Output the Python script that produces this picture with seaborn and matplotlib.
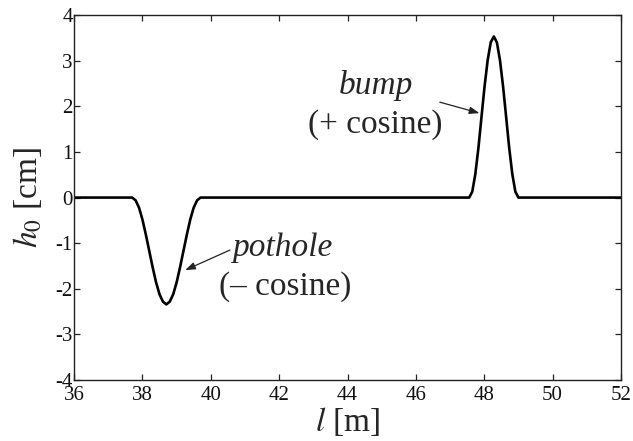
import matplotlib
matplotlib.use("Agg")
import matplotlib.pyplot as plt
import seaborn as sns
import pandas as pd

# Road profile: flat road with a pothole (- cosine) and a bump (+ cosine)
flat_start_l = [36.0]
flat_start_h = [0.0]

pothole_l = [37.7, 37.8, 37.9, 38.0, 38.1, 38.2, 38.3, 38.4, 38.5, 38.6, 38.7,
             38.8, 38.9, 39.0, 39.1, 39.2, 39.3, 39.4, 39.5, 39.6, 39.7]
pothole_h = [0.0, -0.06, -0.22, -0.48, -0.81, -1.17, -1.53, -1.86, -2.12, -2.28, -2.34,
             -2.28, -2.12, -1.86, -1.53, -1.17, -0.81, -0.48, -0.22, -0.06, 0.0]

bump_l = [47.56, 47.65, 47.74, 47.83, 47.92, 48.01, 48.10, 48.19, 48.28,
          48.37, 48.46, 48.55, 48.64, 48.73, 48.82, 48.91, 49.00]
bump_h = [0.0, 0.13, 0.52, 1.09, 1.77, 2.44, 3.01, 3.40, 3.53,
          3.40, 3.01, 2.44, 1.77, 1.09, 0.52, 0.13, 0.0]

flat_end_l = [52.0]
flat_end_h = [0.0]

x_ticks = [36, 38, 40, 42, 44, 46, 48, 50, 52]
x_tick_labels = ["36", "38", "40", "42", "44", "46", "48", "50", "52"]
y_ticks = [-4, -3, -2, -1, 0, 1, 2, 3, 4]
y_tick_labels = ["-4", "-3", "-2", "-1", "0", "1", "2", "3", "4"]

df = pd.DataFrame({
    "l": flat_start_l + pothole_l + bump_l + flat_end_l,
    "h": flat_start_h + pothole_h + bump_h + flat_end_h,
})

sns.set_theme(style="ticks")
plt.rcParams["font.family"] = ["Liberation Serif", "DejaVu Serif"]
plt.rcParams["mathtext.fontset"] = "stix"
plt.rcParams["axes.unicode_minus"] = False

fig, ax = plt.subplots(figsize=(6.33, 4.41), dpi=100)
fig.subplots_adjust(left=0.117, right=0.981, top=0.966, bottom=0.138)

sns.lineplot(data=df, x="l", y="h", ax=ax, color="black", linewidth=1.9,
             sort=False, estimator=None)

ax.set_xlim(36, 52)
ax.set_ylim(-4, 4)
ax.set_xticks(x_ticks)
ax.set_xticklabels(x_tick_labels)
ax.set_yticks(y_ticks)
ax.set_yticklabels(y_tick_labels)

for side in ["top", "right", "bottom", "left"]:
    ax.spines[side].set_visible(True)
    ax.spines[side].set_linewidth(1.0)
    ax.spines[side].set_color("#222222")

ax.tick_params(axis="both", which="both", direction="in", length=4, width=0.9,
               top=True, right=True, labelsize=15, colors="#222222",
               labelcolor="#111111")
ax.tick_params(axis="x", pad=4)
ax.tick_params(axis="y", pad=1)

ax.set_xlabel(r"$l$ [m]", fontsize=24, labelpad=0)
ax.set_ylabel(r"$h_0$ [cm]", fontsize=24, labelpad=8)

# Annotations
ax.text(44.82, 2.45, "bump", fontsize=24, style="italic", ha="center", va="center")
ax.text(44.80, 1.59, "(+ cosine)", fontsize=24, ha="center", va="center")
ax.annotate("", xy=(47.86, 1.85), xytext=(46.7, 2.09),
            arrowprops=dict(arrowstyle="-|>,head_length=0.5,head_width=0.18",
                            color="#222222", lw=0.9, shrinkA=0, shrinkB=0))

ax.text(42.11, -1.10, "pothole", fontsize=24, style="italic", ha="center", va="center")
ax.text(42.18, -1.96, "(\u2013 cosine)", fontsize=24, ha="center", va="center")
ax.annotate("", xy=(39.25, -1.59), xytext=(40.56, -1.15),
            arrowprops=dict(arrowstyle="-|>,head_length=0.5,head_width=0.18",
                            color="#222222", lw=0.9, shrinkA=0, shrinkB=0))

fig.savefig("out.png", dpi=100)
